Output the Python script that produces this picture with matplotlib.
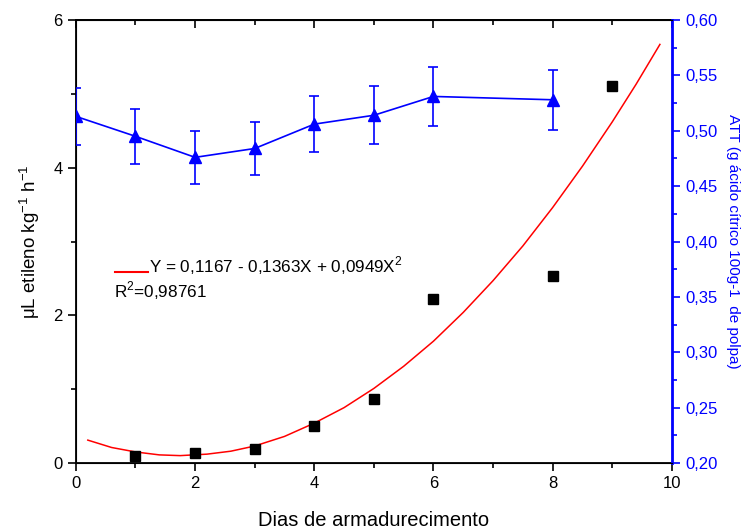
import numpy as np
import matplotlib
matplotlib.use("Agg")
import matplotlib.pyplot as plt
from matplotlib.ticker import MultipleLocator, FuncFormatter

plt.rcParams['font.family'] = ['Liberation Sans', 'DejaVu Sans']

# ethylene (left axis)
days_eth = [1, 2, 3, 4, 5, 6, 8, 9]
ethylene = [0.09, 0.14, 0.19, 0.50, 0.87, 2.22, 2.53, 5.10]

# fitted curve as drawn in the picture
fit_x = [0.2, 0.6, 1.0, 1.4, 1.75, 2.2, 2.6, 3.0, 3.5, 4.0, 4.5, 5.0,
         5.5, 6.0, 6.5, 7.0, 7.5, 8.0, 8.5, 9.0, 9.4, 9.8]
fit_y = [0.31, 0.21, 0.15, 0.11, 0.10, 0.12, 0.16, 0.23, 0.36, 0.54, 0.75, 1.01,
         1.31, 1.65, 2.04, 2.47, 2.94, 3.46, 4.02, 4.62, 5.13, 5.67]

# ATT (right axis)
days_att = [0, 1, 2, 3, 4, 5, 6, 8]
att = [0.513, 0.495, 0.476, 0.484, 0.506, 0.514, 0.531, 0.528]
att_err = [0.026, 0.025, 0.024, 0.024, 0.025, 0.026, 0.027, 0.027]

fig = plt.figure(figsize=(7.44, 5.30), dpi=100)
ax = fig.add_axes([0.102, 0.1264, 0.801, 0.8358])

ax.plot(fit_x, fit_y, color='red', lw=1.1, zorder=2)
ax.plot(days_eth, ethylene, 's', color='black', ms=6.5, zorder=3)

ax.set_xlim(0, 10)
ax.set_ylim(0, 6)
ax.xaxis.set_major_locator(MultipleLocator(2))
ax.xaxis.set_minor_locator(MultipleLocator(1))
ax.yaxis.set_major_locator(MultipleLocator(2))
ax.yaxis.set_minor_locator(MultipleLocator(1))
ax.tick_params(which='both', direction='out', labelsize=12, width=1.2)
ax.tick_params(which='major', length=6)
ax.tick_params(which='minor', length=3.5)
for s in ['left', 'bottom', 'top']:
    ax.spines[s].set_linewidth(1.3)

# top axis: ticks pointing inward, no labels
top = ax.secondary_xaxis('top')
top.xaxis.set_major_locator(MultipleLocator(2))
top.xaxis.set_minor_locator(MultipleLocator(1))
top.tick_params(which='both', direction='in', labeltop=False, width=1.2)
top.tick_params(which='major', length=6)
top.tick_params(which='minor', length=3.5)
top.spines['top'].set_linewidth(1.3)

ax.set_xlabel("Dias de armadurecimento", fontsize=14.5, labelpad=14)
ax.set_ylabel(r"$\mathregular{\mu}$L etileno kg$^{\mathregular{-1}}$ h$^{\mathregular{-1}}$",
              fontsize=13.5, labelpad=8)

# legend drawn by hand
ax.plot([0.065, 0.121], [0.431, 0.431], color='red', lw=1.5, transform=ax.transAxes, clip_on=False)
ax.text(0.122, 0.446, "Y = 0,1167 - 0,1363X + 0,0949X$^{\mathregular{2}}$", transform=ax.transAxes,
        fontsize=12.3, va='center', ha='left')
ax.text(0.064, 0.389, "R$^{\mathregular{2}}$=0,98761", transform=ax.transAxes,
        fontsize=12.3, va='center', ha='left')

ax2 = ax.twinx()
ax2.errorbar(days_att, att, yerr=att_err, color='blue', marker='^', ms=9, lw=1.2,
             elinewidth=1.2, capsize=3.5, capthick=1.2, zorder=4)
ax2.set_ylim(0.20, 0.60)
ax2.yaxis.set_major_locator(MultipleLocator(0.05))
ax2.yaxis.set_minor_locator(MultipleLocator(0.025))
ax2.yaxis.set_major_formatter(FuncFormatter(lambda v, p: f"{v:.2f}".replace('.', ',')))
ax2.tick_params(which='both', direction='out', colors='blue', labelsize=12, width=1.2)
ax2.tick_params(which='major', length=6)
ax2.tick_params(which='minor', length=3.5)
ax2.spines['right'].set_color('blue')
ax2.spines['right'].set_linewidth(2)
ax2.set_ylabel("ATT (g ácido cítrico 100g-1  de polpa)", color='blue', fontsize=11,
               rotation=270, labelpad=16)

fig.savefig("out.png", dpi=100)
